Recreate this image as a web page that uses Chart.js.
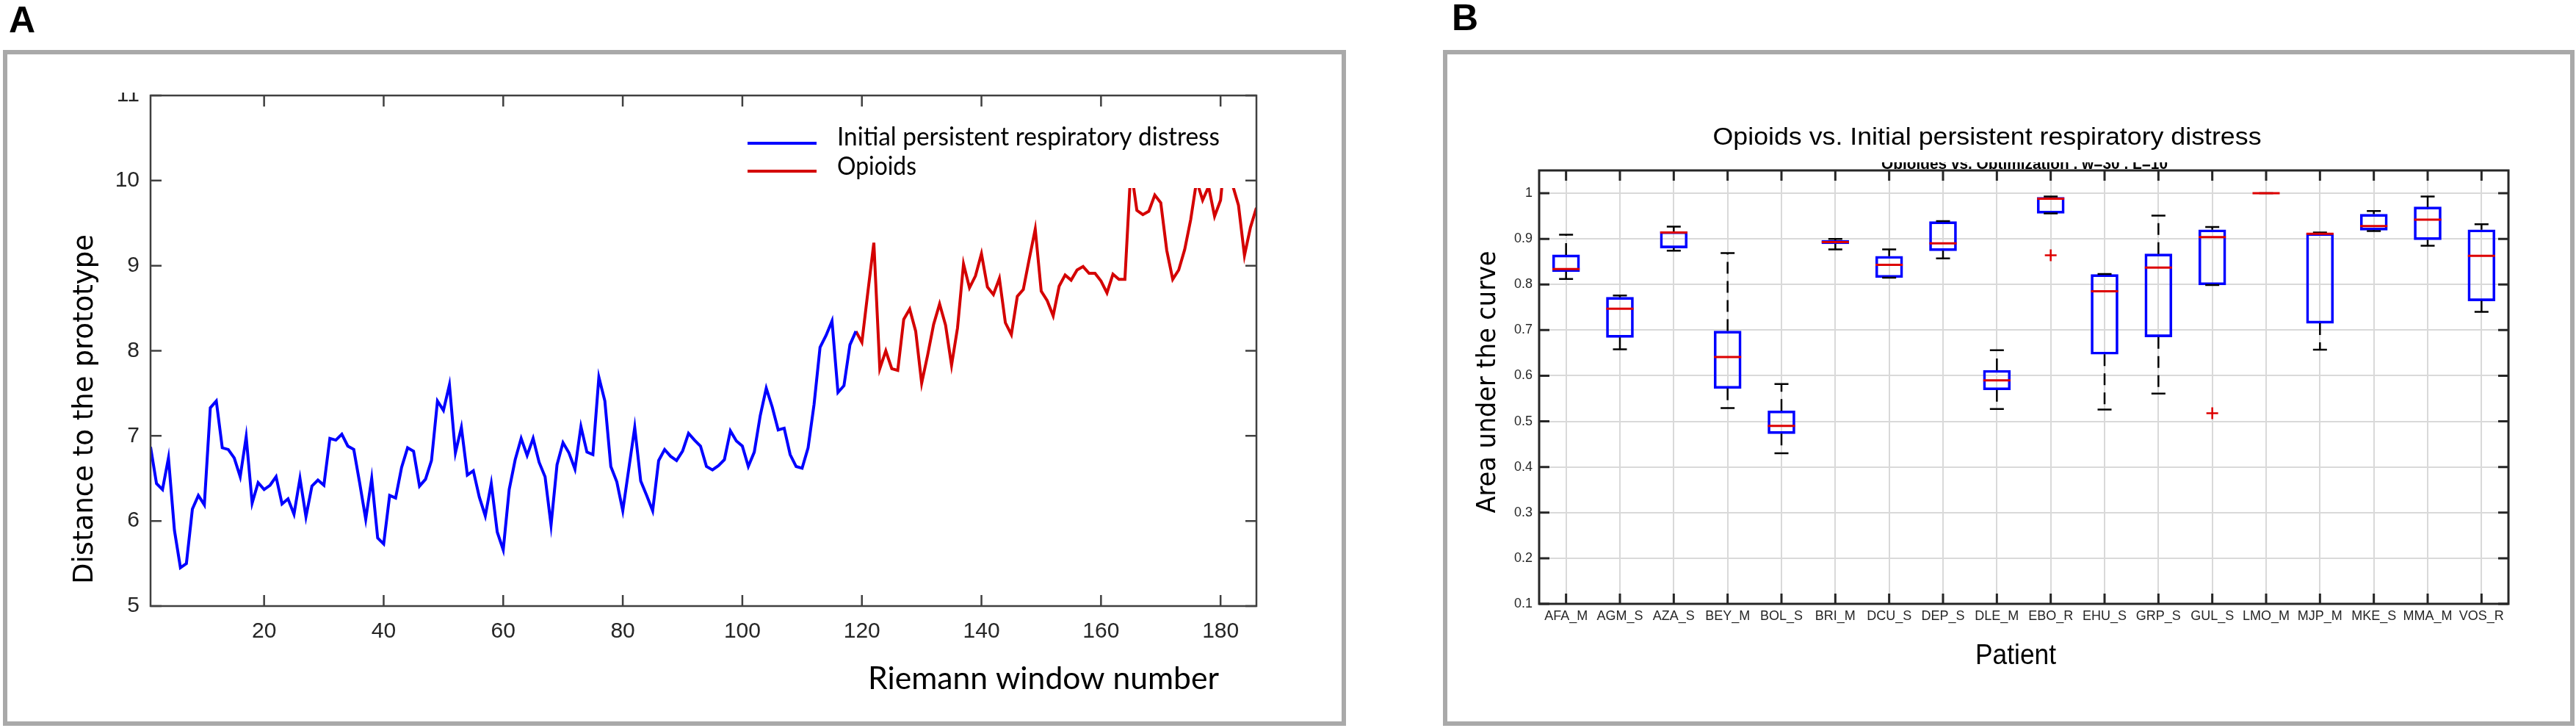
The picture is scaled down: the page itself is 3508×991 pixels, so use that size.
<!DOCTYPE html>
<html>
<head>
<meta charset="utf-8">
<script src="https://cdn.jsdelivr.net/npm/chart.js@4.4.1/dist/chart.umd.min.js"></script>
<style>
  html, body { margin: 0; padding: 0; background: #fff; }
  body { width: 3508px; height: 991px; position: relative; overflow: hidden; }
  .frame { position: absolute; border: 6px solid #a9a9a9; box-sizing: border-box; }
  .panel-label { position: absolute; font: bold 50px "Liberation Sans", Arial, sans-serif; line-height: 1; color: #000; }
  .holder { position: absolute; }
</style>
</head>
<body>
<div class="panel-label" style="left:12px; top:2px">A</div>
<div class="panel-label" style="left:1977px; top:-1px">B</div>
<div class="frame" style="left:4px; top:68px; width:1829px; height:920px"></div>
<div class="frame" style="left:1965px; top:68px; width:1541px; height:920px"></div>
<div class="holder" style="left:14px; top:126px; width:1808px; height:850px"><canvas id="lineChart"></canvas></div>
<div class="holder" style="left:1972px; top:75px; width:1526px; height:905px"><canvas id="boxChart"></canvas></div>

<script>
// Panel A: distance to the prototype per Riemann window
const windowTicks = [20, 40, 60, 80, 100, 120, 140, 160, 180]
const distanceTicks = [5, 6, 7, 8, 9, 10, 11]

const distressStart = 1
const distressValues = [
  6.87, 6.44, 6.37, 6.74, 5.89, 5.45, 5.50, 6.14, 6.30, 6.19,
  7.33, 7.41, 6.86, 6.84, 6.74, 6.52, 6.99, 6.21, 6.45, 6.37,
  6.42, 6.52, 6.20, 6.26, 6.08, 6.50, 6.05, 6.41, 6.48, 6.42,
  6.97, 6.95, 7.02, 6.88, 6.84, 6.44, 6.02, 6.50, 5.80, 5.73,
  6.30, 6.27, 6.63, 6.86, 6.82, 6.41, 6.49, 6.71, 7.41, 7.30,
  7.60, 6.80, 7.10, 6.54, 6.59, 6.28, 6.06, 6.44, 5.87, 5.66,
  6.37, 6.72, 6.97, 6.77, 6.97, 6.69, 6.52, 5.95, 6.66, 6.92,
  6.80, 6.61, 7.11, 6.81, 6.78, 7.69, 7.41, 6.64, 6.46, 6.12,
  6.61, 7.10, 6.47, 6.30, 6.12, 6.71, 6.84, 6.76, 6.71, 6.82,
  7.03, 6.95, 6.88, 6.64, 6.60, 6.65, 6.72, 7.06, 6.94, 6.88,
  6.64, 6.81, 7.24, 7.56, 7.34, 7.07, 7.09, 6.78, 6.64, 6.62,
  6.86, 7.37, 8.04, 8.18, 8.35, 7.51, 7.59, 8.07, 8.23
]

const opioidsStart = 119
const opioidsValues = [
  8.23, 8.10, 8.69, 9.27, 7.79, 8.00, 7.79, 7.77, 8.37, 8.49,
  8.23, 7.62, 7.95, 8.31, 8.55, 8.30, 7.83, 8.27, 9.02, 8.74,
  8.88, 9.14, 8.75, 8.66, 8.85, 8.33, 8.19, 8.64, 8.72, 9.08,
  9.43, 8.70, 8.59, 8.41, 8.76, 8.89, 8.83, 8.95, 8.99, 8.91,
  8.91, 8.82, 8.68, 8.90, 8.84, 8.84, 10.15, 9.65, 9.60, 9.64,
  9.83, 9.74, 9.18, 8.84, 8.95, 9.19, 9.54, 10.0, 9.77, 9.93,
  9.58, 9.77, 10.5, 9.95, 9.71, 9.12, 9.45, 9.68
]

// Panel B: AUC per patient (box plot statistics)
const patients = ["AFA_M", "AGM_S", "AZA_S", "BEY_M", "BOL_S", "BRI_M", "DCU_S", "DEP_S", "DLE_M",
  "EBO_R", "EHU_S", "GRP_S", "GUL_S", "LMO_M", "MJP_M", "MKE_S", "MMA_M", "VOS_R"]
const whiskerLow = [0.812, 0.658, 0.874, 0.529, 0.430, 0.877, 0.815, 0.857, 0.527,
  0.956, 0.526, 0.561, 0.799, 1.0, 0.657, 0.917, 0.885, 0.740]
const quartileLow = [0.828, 0.684, 0.880, 0.572, 0.473, 0.889, 0.815, 0.874, 0.569,
  0.956, 0.647, 0.685, 0.799, 1.0, 0.715, 0.919, 0.898, 0.764]
const medians = [0.834, 0.747, 0.914, 0.641, 0.490, 0.893, 0.843, 0.890, 0.590,
  0.988, 0.785, 0.837, 0.904, 1.0, 0.911, 0.928, 0.942, 0.863]
const quartileHigh = [0.865, 0.772, 0.916, 0.698, 0.523, 0.897, 0.862, 0.938, 0.612,
  0.991, 0.822, 0.867, 0.920, 1.0, 0.912, 0.954, 0.970, 0.920]
const whiskerHigh = [0.909, 0.776, 0.927, 0.869, 0.582, 0.900, 0.877, 0.939, 0.656,
  0.993, 0.823, 0.951, 0.926, 1.0, 0.914, 0.961, 0.993, 0.932]
const outlierPatients = ["EBO_R", "GUL_S"]
const outlierValues = [0.864, 0.518]
const aucTicks = [0.1, 0.2, 0.3, 0.4, 0.5, 0.6, 0.7, 0.8, 0.9, 1]

const SANS = '"Liberation Sans", Arial, sans-serif'
const VERDANA = '"DejaVu Sans", Verdana, sans-serif'
const CALIBRI = 'Lato, "Open Sans", sans-serif'

// Texte étiré à une largeur donnée (la figure d'origine est un peu déformée)
function drawFitted(ctx, text, x, y, width, font, align = "center", angle = 0) {
  ctx.save()
  ctx.font = font
  ctx.translate(x, y)
  ctx.rotate(angle)
  ctx.scale(width / ctx.measureText(text).width, 1)
  ctx.textAlign = align
  ctx.textBaseline = "alphabetic"
  ctx.fillStyle = "#000"
  ctx.fillText(text, 0, 0)
  ctx.restore()
}

// MATLAB style: closed box around the plot and ticks pointing inwards
function boxedAxes(color, lineWidth, length) {
  return {
    id: "boxedAxes",
    afterDraw(chart) {
      const { ctx, chartArea: a, scales: { x, y } } = chart
      ctx.save()
      ctx.strokeStyle = color
      ctx.lineWidth = lineWidth
      ctx.beginPath()
      x.ticks.forEach((tick, i) => {
        const px = x.getPixelForTick(i)
        ctx.moveTo(px, a.bottom); ctx.lineTo(px, a.bottom - length)
        ctx.moveTo(px, a.top); ctx.lineTo(px, a.top + length)
      })
      y.ticks.forEach((tick, i) => {
        const py = y.getPixelForTick(i)
        ctx.moveTo(a.left, py); ctx.lineTo(a.left + length, py)
        ctx.moveTo(a.right, py); ctx.lineTo(a.right - length, py)
      })
      ctx.stroke()
      ctx.strokeRect(a.left, a.top, a.right - a.left, a.bottom - a.top)
      ctx.restore()
    }
  }
}

const toPoints = (start, values) => values.map((v, i) => ({ x: start + i, y: v }))

const lineOrigin = { x: 14, y: 126 }
const lineDecor = {
  id: "lineDecor",
  afterDatasetsDraw(chart) {
    const { ctx } = chart
    const sets = chart.data.datasets
    ctx.save()
    ctx.translate(-lineOrigin.x, -lineOrigin.y)
    // legend box (white, no border) sits on top of the curves
    ctx.fillStyle = "#fff"
    ctx.fillRect(1000, 150, 690, 106)
    ctx.lineWidth = 4
    ctx.strokeStyle = sets[0].borderColor
    ctx.beginPath(); ctx.moveTo(1018, 195); ctx.lineTo(1112, 195); ctx.stroke()
    ctx.strokeStyle = sets[1].borderColor
    ctx.beginPath(); ctx.moveTo(1018, 233); ctx.lineTo(1112, 233); ctx.stroke()
    drawFitted(ctx, sets[0].label, 1140, 198, 521, "34px " + CALIBRI, "left")
    drawFitted(ctx, sets[1].label, 1140, 238, 108, "34px " + CALIBRI, "left")
    ctx.restore()
  },
  afterDraw(chart) {
    const { ctx } = chart
    ctx.save()
    ctx.translate(-lineOrigin.x, -lineOrigin.y)
    drawFitted(ctx, "Riemann window number", 1182, 938, 478, "43px " + CALIBRI, "left")
    drawFitted(ctx, "Distance to the prototype", 126, 557, 476, "37px " + VERDANA, "center", -Math.PI / 2)
    ctx.restore()
  }
}

new Chart(document.getElementById("lineChart"), {
  type: "line",
  data: {
    datasets: [
      { label: "Initial persistent respiratory distress", data: toPoints(distressStart, distressValues),
        borderColor: "#0000ff", borderWidth: 4, pointRadius: 0, tension: 0 },
      { label: "Opioids", data: toPoints(opioidsStart, opioidsValues),
        borderColor: "#d40000", borderWidth: 4, pointRadius: 0, tension: 0 }
    ]
  },
  options: {
    responsive: true,
    maintainAspectRatio: false,
    animation: false,
    layout: { padding: { top: 4, right: 111, left: 0, bottom: 0 } },
    plugins: { legend: { display: false }, tooltip: { enabled: false } },
    scales: {
      x: {
        type: "linear", min: 1, max: 186,
        afterBuildTicks: (scale) => { scale.ticks = windowTicks.map((value) => ({ value })) },
        afterFit: (scale) => { scale.height = 151; scale.paddingLeft = 0; scale.paddingRight = 0 },
        grid: { display: false, drawTicks: false },
        border: { display: false },
        ticks: { font: { family: SANS, size: 30 }, color: "#262626", padding: 17, maxRotation: 0 }
      },
      y: {
        min: 5, max: 11,
        afterBuildTicks: (scale) => { scale.ticks = distanceTicks.map((value) => ({ value })) },
        afterFit: (scale) => { scale.width = 191; scale.paddingTop = 0; scale.paddingBottom = 0 },
        grid: { display: false, drawTicks: false },
        border: { display: false },
        ticks: { font: { family: SANS, size: 30 }, color: "#262626", padding: 15 }
      }
    }
  },
  plugins: [lineDecor, boxedAxes("#404040", 2.5, 15)]
})

const boxOrigin = { x: 1972, y: 75 }
const boxDecor = {
  id: "boxDecor",
  afterDatasetsDraw(chart) {
    const { ctx, scales: { x, y } } = chart
    const half = 18.5
    const cap = 9.5
    ctx.save()
    patients.forEach((name, i) => {
      const px = x.getPixelForValue(i)
      // whiskers
      ctx.strokeStyle = "#000"
      ctx.lineWidth = 2.5
      ctx.setLineDash([16, 10])
      ctx.beginPath()
      ctx.moveTo(px, y.getPixelForValue(quartileHigh[i])); ctx.lineTo(px, y.getPixelForValue(whiskerHigh[i]))
      ctx.moveTo(px, y.getPixelForValue(quartileLow[i])); ctx.lineTo(px, y.getPixelForValue(whiskerLow[i]))
      ctx.stroke()
      ctx.setLineDash([])
      ctx.beginPath()
      ctx.moveTo(px - cap, y.getPixelForValue(whiskerHigh[i])); ctx.lineTo(px + cap, y.getPixelForValue(whiskerHigh[i]))
      ctx.moveTo(px - cap, y.getPixelForValue(whiskerLow[i])); ctx.lineTo(px + cap, y.getPixelForValue(whiskerLow[i]))
      ctx.stroke()
      // median
      ctx.strokeStyle = "#dd0000"
      ctx.lineWidth = 3
      ctx.beginPath()
      ctx.moveTo(px - half, y.getPixelForValue(medians[i])); ctx.lineTo(px + half, y.getPixelForValue(medians[i]))
      ctx.stroke()
    })
    // outliers
    ctx.strokeStyle = "#dd0000"
    ctx.lineWidth = 2.5
    outlierPatients.forEach((name, k) => {
      const px = x.getPixelForValue(patients.indexOf(name))
      const py = y.getPixelForValue(outlierValues[k])
      ctx.beginPath()
      ctx.moveTo(px - 8, py); ctx.lineTo(px + 8, py)
      ctx.moveTo(px, py - 8); ctx.lineTo(px, py + 8)
      ctx.stroke()
    })
    ctx.restore()
  },
  afterDraw(chart) {
    const { ctx, chartArea } = chart
    ctx.save()
    ctx.translate(-boxOrigin.x, -boxOrigin.y)
    drawFitted(ctx, "Opioids vs. Initial persistent respiratory distress", 2706, 197, 747, "33px " + SANS)
    drawFitted(ctx, "Patient", 2745, 904, 110, "39px " + SANS)
    drawFitted(ctx, "Area under the curve", 2036, 520, 357, "36px " + VERDANA, "center", -Math.PI / 2)
    // old subtitle, half hidden behind the title area
    ctx.beginPath()
    ctx.rect(2400, 221, 700, chartArea.top + boxOrigin.y - 221 - 2)
    ctx.clip()
    drawFitted(ctx, "Opioides vs. Optimization , w=30 , L=10", 2757, 230, 390, "bold 22px " + SANS)
    ctx.restore()
  }
}

new Chart(document.getElementById("boxChart"), {
  type: "bar",
  data: {
    labels: patients,
    datasets: [{
      label: "AUC",
      data: quartileLow.map((low, i) => [low, quartileHigh[i]]),
      backgroundColor: "rgba(0,0,0,0)",
      borderColor: "#0000ff",
      borderWidth: 3,
      borderSkipped: false,
      barThickness: 37
    }]
  },
  options: {
    responsive: true,
    maintainAspectRatio: false,
    animation: false,
    layout: { padding: { top: 157, right: 82, left: 0, bottom: 0 } },
    plugins: { legend: { display: false }, tooltip: { enabled: false } },
    scales: {
      x: {
        afterFit: (scale) => { scale.height = 158; scale.paddingLeft = 0; scale.paddingRight = 0 },
        grid: { color: "#d9d9d9", lineWidth: 2, offset: false, drawTicks: false },
        border: { display: false },
        ticks: { font: { family: SANS, size: 18 }, color: "#262626", padding: 6, autoSkip: false, maxRotation: 0 }
      },
      y: {
        min: 0.1, max: 1.05,
        afterBuildTicks: (scale) => { scale.ticks = aucTicks.map((value) => ({ value })) },
        afterFit: (scale) => { scale.width = 124; scale.paddingTop = 0; scale.paddingBottom = 0 },
        grid: { color: "#d9d9d9", lineWidth: 2, drawTicks: false },
        border: { display: false },
        ticks: { font: { family: SANS, size: 18 }, color: "#262626", padding: 9, callback: (value) => String(value) }
      }
    }
  },
  plugins: [boxDecor, boxedAxes("#262626", 3, 14)]
})
</script>
</body>
</html>
